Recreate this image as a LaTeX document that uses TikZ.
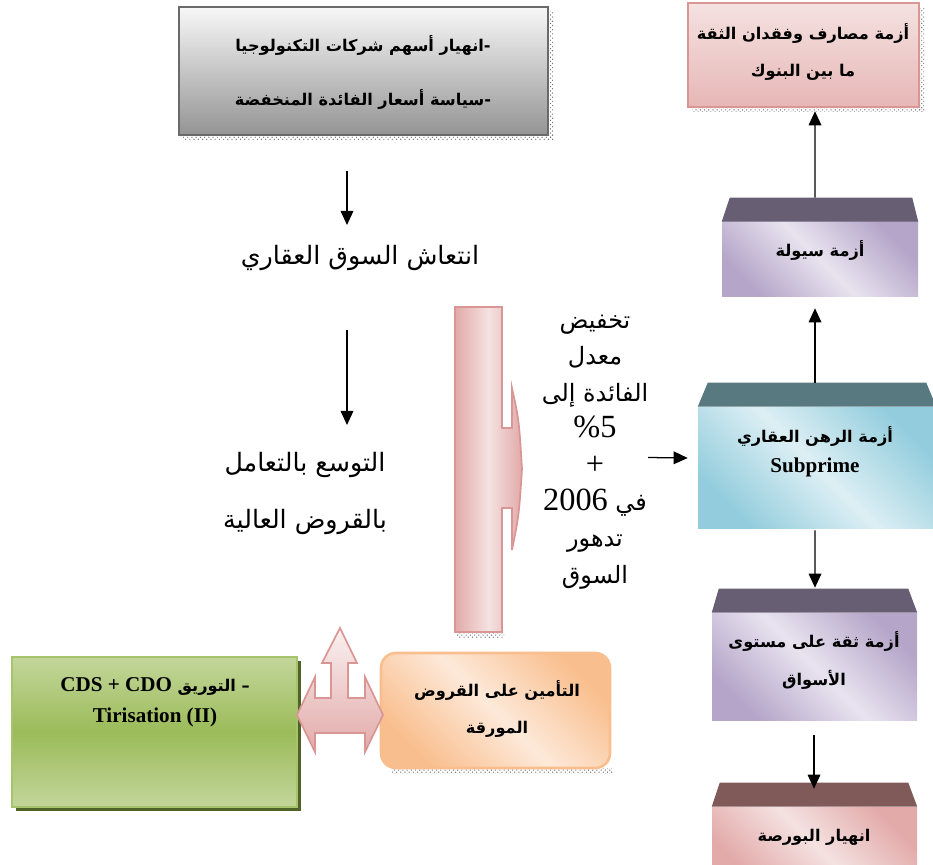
\documentclass[tikz,border=0pt]{standalone}
\usepackage{fontspec}
\setmainfont{Liberation Serif}
\newfontfamily\arabicfont[Script=Arabic]{DejaVu Sans}
\TeXXeTstate=1
\usetikzlibrary{arrows.meta,patterns,shadows}

\definecolor{grayedge}{HTML}{6A6A6A}
\definecolor{pinkedge}{HTML}{D99694}
\definecolor{pinklight}{HTML}{F4E2E1}
\definecolor{pinkdark}{HTML}{E2AAA9}
\definecolor{purplecap}{HTML}{675E74}
\definecolor{purplelight}{HTML}{E8E3EF}
\definecolor{purpledark}{HTML}{B5A5C9}
\definecolor{tealcap}{HTML}{587980}
\definecolor{teallight}{HTML}{DDEFF4}
\definecolor{tealdark}{HTML}{93CDDD}
\definecolor{rosecap}{HTML}{805959}
\definecolor{greenlight}{HTML}{C3D69B}
\definecolor{greenmid}{HTML}{9BBB59}
\definecolor{greenedge}{HTML}{A5C46B}
\definecolor{greenshadow}{HTML}{4F6228}
\definecolor{orangelight}{HTML}{FDE9D9}
\definecolor{orangedark}{HTML}{F9BE8D}

\newcommand\ar[1]{{\arabicfont\beginR #1\endR}}
\newcommand\lat[1]{\beginL{\rmfamily #1}\endL}

\tikzset{
	wh/.style 2 args={minimum width=#1*0.025cm, minimum height=#2*0.025cm},
	conn/.style={black, line width=0.9pt, -{Triangle[length=10pt,width=9pt]}},
	hatch/.style={pattern=crosshatch dots, pattern color=black!55},
	boxtext/.style={align=center, font={\arabicfont\bfseries\fontsize{11.5}{#1}\selectfont}},
	bigtext/.style={align=center, font={\arabicfont\fontsize{18}{#1}\selectfont}},
	diag/.style 2 args={left color=#1, right color=#1, middle color=#2, shading angle=135},
}

\begin{document}
\begin{tikzpicture}[x=0.025cm,y=-0.025cm]
	\tikzstyle{every node}+=[inner sep=0pt]
	\useasboundingbox (0,0) rectangle (933,865);

	% causes
	\fill[hatch] (183,135) rectangle (553,140);
	\fill[hatch] (548,12) rectangle (553,140);
	\node[wh={369}{128}, draw=grayedge, line width=1.8pt, top color=black!3, bottom color=black!42] (causes) at (363.5,71) {};
	\node[boxtext=38.4pt] (causesT) at (363,72) {\ar{-\kern0pt انهيار أسهم شركات التكنولوجيا}\\ \ar{-\kern0pt سياسة أسعار الفائدة المنخفضة}};

	\node[bigtext=20pt] (boom) at (360,258) {\ar{انتعاش السوق العقاري}};
	\node[bigtext=40.5pt] (expand) at (305,493) {\ar{التوسع بالتعامل}\\ \ar{بالقروض العالية}};

	% big pink arrow
	\fill[hatch] (457,632) rectangle (504,637);
	\draw[draw=pinkedge, line width=1.2pt, left color=pinkdark, right color=pinkdark, middle color=pinklight]
		(455,307) -- (502,307) -- (502,428) -- (512,428) -- (512,388)
		.. controls (519,420) .. (522,469) .. controls (519,515) .. (512,550)
		-- (512,508) -- (502,508) -- (502,632) -- (455,632) -- cycle;
	\node[align=center, font={\arabicfont\fontsize{17}{25.9pt}\selectfont}] (rate) at (595,452) {\ar{تخفيض}\\ \ar{معدل}\\ \ar{الفائدة إلى}\\ {\rmfamily\fontsize{23}{26}\selectfont \%5}\\ {\rmfamily\fontsize{23}{26}\selectfont +}\\ \ar{في \lat{\fontsize{23}{26}\selectfont 2006}}\\ \ar{تدهور}\\ \ar{السوق}};

	% right column
	\fill[hatch] (692,107) rectangle (924,112);
	\fill[hatch] (919,8) rectangle (924,112);
	\node[wh={231}{104}, draw=pinkedge, line width=1.8pt, top color=pinklight, bottom color=pinkdark!85] (banks) at (803.5,55) {};
	\node[boxtext=26.3pt] (banksT) at (803,51.5) {\ar{أزمة مصارف وفقدان الثقة}\\ \ar{ما بين البنوك}};

	\node[wh={196}{75}, diag={purpledark}{purplelight}] (liq) at (820,259.5) {};
	\fill[purplecap] (liq.north west) -- ([shift={(8,-24)}]liq.north west) -- ([shift={(-6,-24)}]liq.north east) -- (liq.north east) -- cycle;
	\node[boxtext=20pt] (liqT) at (820,250) {\ar{أزمة سيولة}};

	\node[wh={238}{121}, diag={tealdark}{teallight}] (sub) at (817,467.5) {};
	\fill[tealcap] (sub.north west) -- ([shift={(10,-24)}]sub.north west) -- ([shift={(-10,-24)}]sub.north east) -- (sub.north east) -- cycle;
	\node[boxtext=21.3pt] (subT) at (815,452) {\ar{أزمة الرهن العقاري}\\ {\rmfamily\bfseries\fontsize{15}{21.3}\selectfont Subprime}};

	\node[wh={205}{107}, diag={purpledark}{purplelight}] (conf) at (814.5,666.5) {};
	\fill[purplecap] (conf.north west) -- ([shift={(7,-24)}]conf.north west) -- ([shift={(-9,-24)}]conf.north east) -- (conf.north east) -- cycle;
	\node[boxtext=27pt] (confT) at (814,660) {\ar{أزمة ثقة على مستوى}\\ \ar{الأسواق}};

	\node[wh={205}{74}, diag={pinkdark}{pinklight}] (bourse) at (814.5,844) {};
	\fill[rosecap] (bourse.north west) -- ([shift={(8,-24)}]bourse.north west) -- ([shift={(-9,-24)}]bourse.north east) -- (bourse.north east) -- cycle;
	\node[boxtext=20pt] (bourseT) at (814,837) {\ar{انهيار البورصة}};

	% bottom left
	\node[wh={285}{150}, draw=greenedge, line width=1.8pt, top color=greenlight, bottom color=greenlight, middle color=greenmid,
		drop shadow={opacity=1, fill=greenshadow, shadow xshift=3pt, shadow yshift=-3pt}] (tit) at (154.5,732) {};
	\node[boxtext=22pt] (titT) at (155,702.5) {\ar{– التوريق \lat{\fontsize{15}{22}\selectfont CDS + CDO}}\\ {\rmfamily\bfseries\fontsize{15}{22}\selectfont Tirisation (II)}};

	\fill[hatch] (392,768) rectangle (612,773);
	\node[wh={229}{115}, draw=orangedark, line width=1.8pt, rounded corners=10.5pt, diag={orangedark}{orangelight}] (ins) at (495.5,710.5) {};
	\node[boxtext=26.3pt] (insT) at (497,708.5) {\ar{التأمين على القروض}\\ \ar{المورقة}};

	\draw[draw=pinkedge, line width=1.2pt, top color=pinklight!50!white, bottom color=pinkdark]
		(340,628) -- (357,663) -- (348,663) -- (348,698) -- (365,698) -- (365,677) -- (383,715)
		-- (365,752) -- (365,733) -- (315,733) -- (315,752) -- (297,715) -- (315,677)
		-- (315,698) -- (331,698) -- (331,663) -- (322,663) -- cycle;

	% connectors
	\draw[conn] ([shift={(-16.5,35)}]causes.south) -- ([shift={(-13,-33)}]boom.center);
	\draw[conn] ([shift={(-13,72)}]boom.center) -- ([shift={(42,-68)}]expand.center);
	\draw[conn] ([shift={(53,5.5)}]rate.center) -- ([shift={(-10,-9.5)}]sub.west);
	\draw[conn] ([shift={(-2,-24)}]sub.north) -- ([shift={(-5,11)}]liq.south);
	\draw[conn] ([shift={(-5,-24)}]liq.north) -- ([shift={(11.5,3)}]banks.south);
	\draw[conn] ([shift={(-2,2)}]sub.south) -- ([shift={(0.5,-25)}]conf.north);
	\draw[conn] ([shift={(-0.5,15)}]conf.south) -- ([shift={(-0.5,-18)}]bourse.north);

\end{tikzpicture}
\end{document}
